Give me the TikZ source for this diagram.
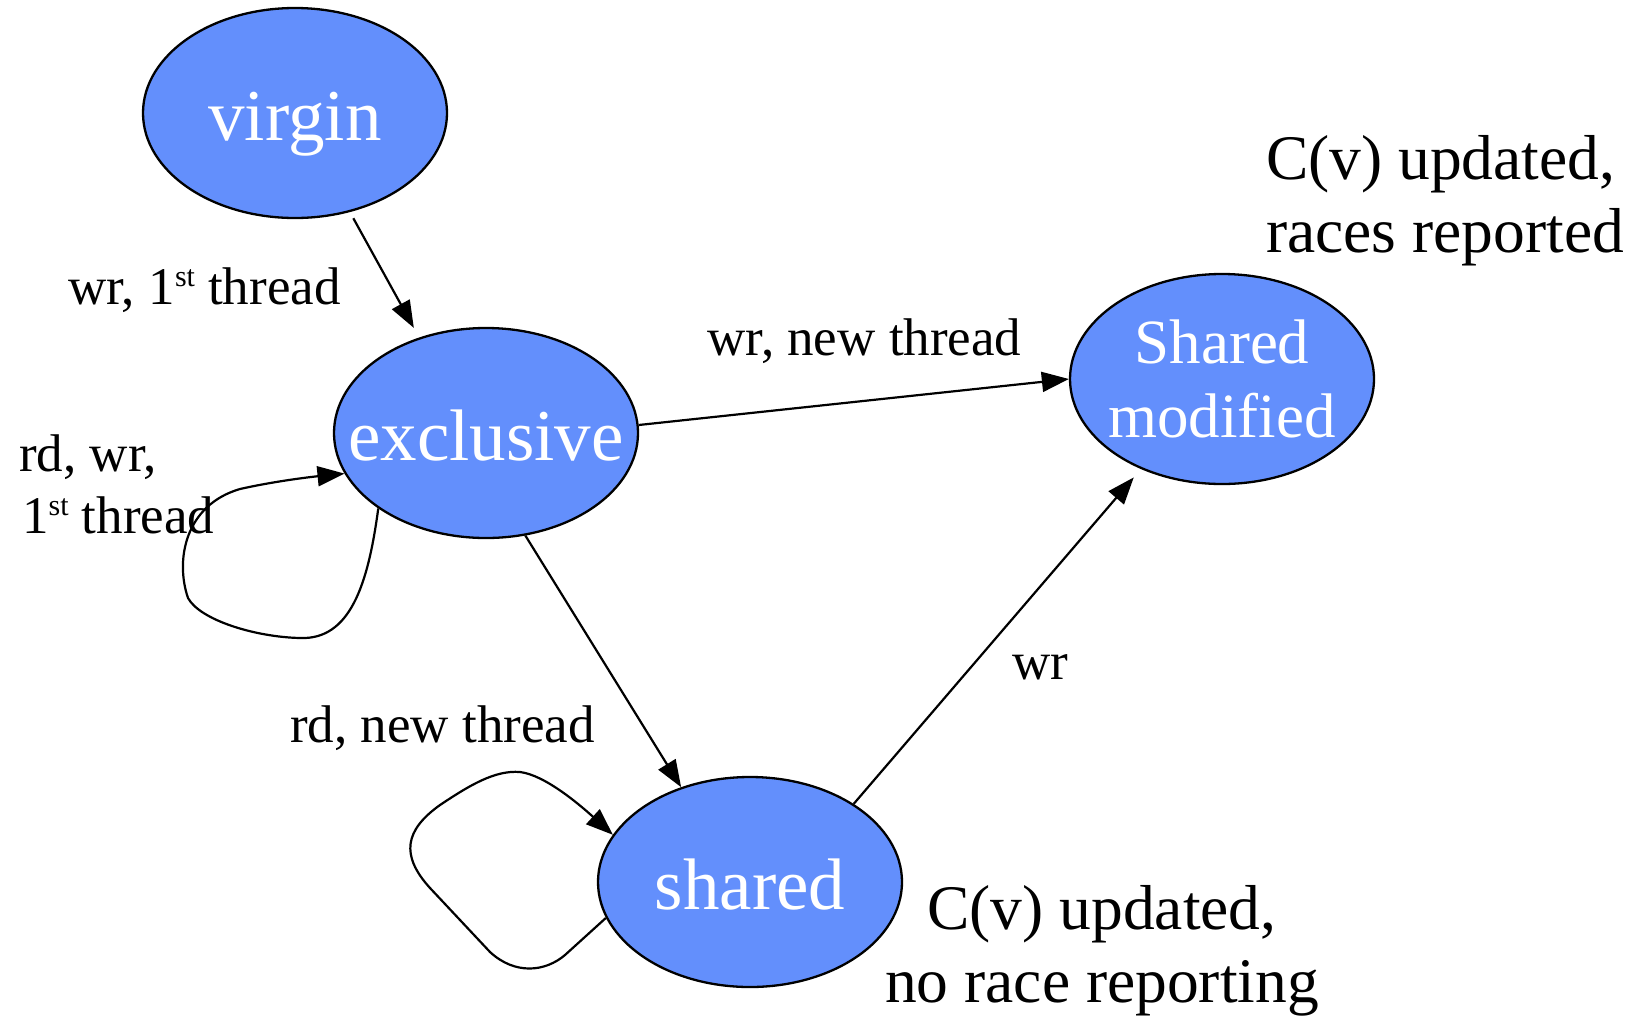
\documentclass[tikz,border=0pt]{standalone}
\usepackage{fontspec}
\setmainfont{Liberation Serif}
\usetikzlibrary{shapes.geometric,arrows.meta}
\definecolor{stfill}{RGB}{99,143,252}
\newcommand{\supst}{\raisebox{18pt}{\fontsize{30}{30}\selectfont st}}
\newcommand{\zb}[1]{\makebox[0pt][c]{#1}}
\begin{document}
\begin{tikzpicture}[x=1pt,y=-1pt,
  state/.style={ellipse, draw, line width=2.3pt, fill=stfill, text=white,
    minimum width=304pt, minimum height=210pt, inner sep=0pt},
  bigtxt/.style={font=\fontsize{73}{80}\selectfont, text height=54pt, text depth=0pt},
  smalltxt/.style={font=\fontsize{63}{74}\selectfont, align=center},
  lbl/.style={font=\fontsize{53}{62}\selectfont, anchor=base west, inner sep=0pt},
  note/.style={font=\fontsize{63.5}{73}\selectfont, inner sep=0pt},
  arr/.style={line width=2.2pt, -{Triangle[length=27pt,width=20pt]}}]
\useasboundingbox (0,0) rectangle (1645,1020);

\node[state,bigtxt] (vg) at (295,113) {\zb{virgin}};
\node[state,bigtxt] (ex) at (486,433) {\zb{exclusive}};
\node[state,smalltxt] (sm) at (1222,379) {\zb{Shared}\\\zb{modified}};
\node[state,bigtxt] (sh) at (750,882) {\zb{shared}};

\draw[arr, shorten <=7pt, shorten >=11pt] (vg.-61) -- (ex.125);
\draw[arr] (ex.3) -- (sm.180);
\draw[arr] (ex.-69) -- (sh.126);
\draw[arr, shorten >=11pt] (sh.37) -- (sm.228);

\draw[arr] (ex.215) .. controls (368,585) and (350,640) .. (300,638)
  .. controls (255,637) and (200,620) .. (188,598)
  .. controls (175,560) and (185,505) .. (240,489)
  .. controls (280,480) and (320,476) .. (ex.196);

\draw[arr] (sh.194) -- (565,955)
  .. controls (545,972) and (515,975) .. (490,952)
  -- (430,888)
  .. controls (400,855) and (405,830) .. (440,805)
  .. controls (470,785) and (495,770) .. (520,772)
  .. controls (545,775) and (580,805) .. (sh.161);

\node[lbl] (l1) at (68,304) {wr, 1\supst{} thread};
\node[lbl] (l2a) at (19,471) {rd, wr,};
\node[lbl] (l2b) at (22,533) {1\supst{} thread};
\node[lbl] (l3) at (707,355) {wr, new thread};
\node[lbl] (l4) at (290,742) {rd, new thread};
\node[lbl] (l5) at (1012,679) {wr};

\node[note, anchor=base west, align=left] (n1) at (1266,252) {C(v) updated,\\races reported};
\node[note, anchor=base, align=center] (n2) at (1102,1002) {C(v) updated,\\no race reporting};
\end{tikzpicture}
\end{document}
